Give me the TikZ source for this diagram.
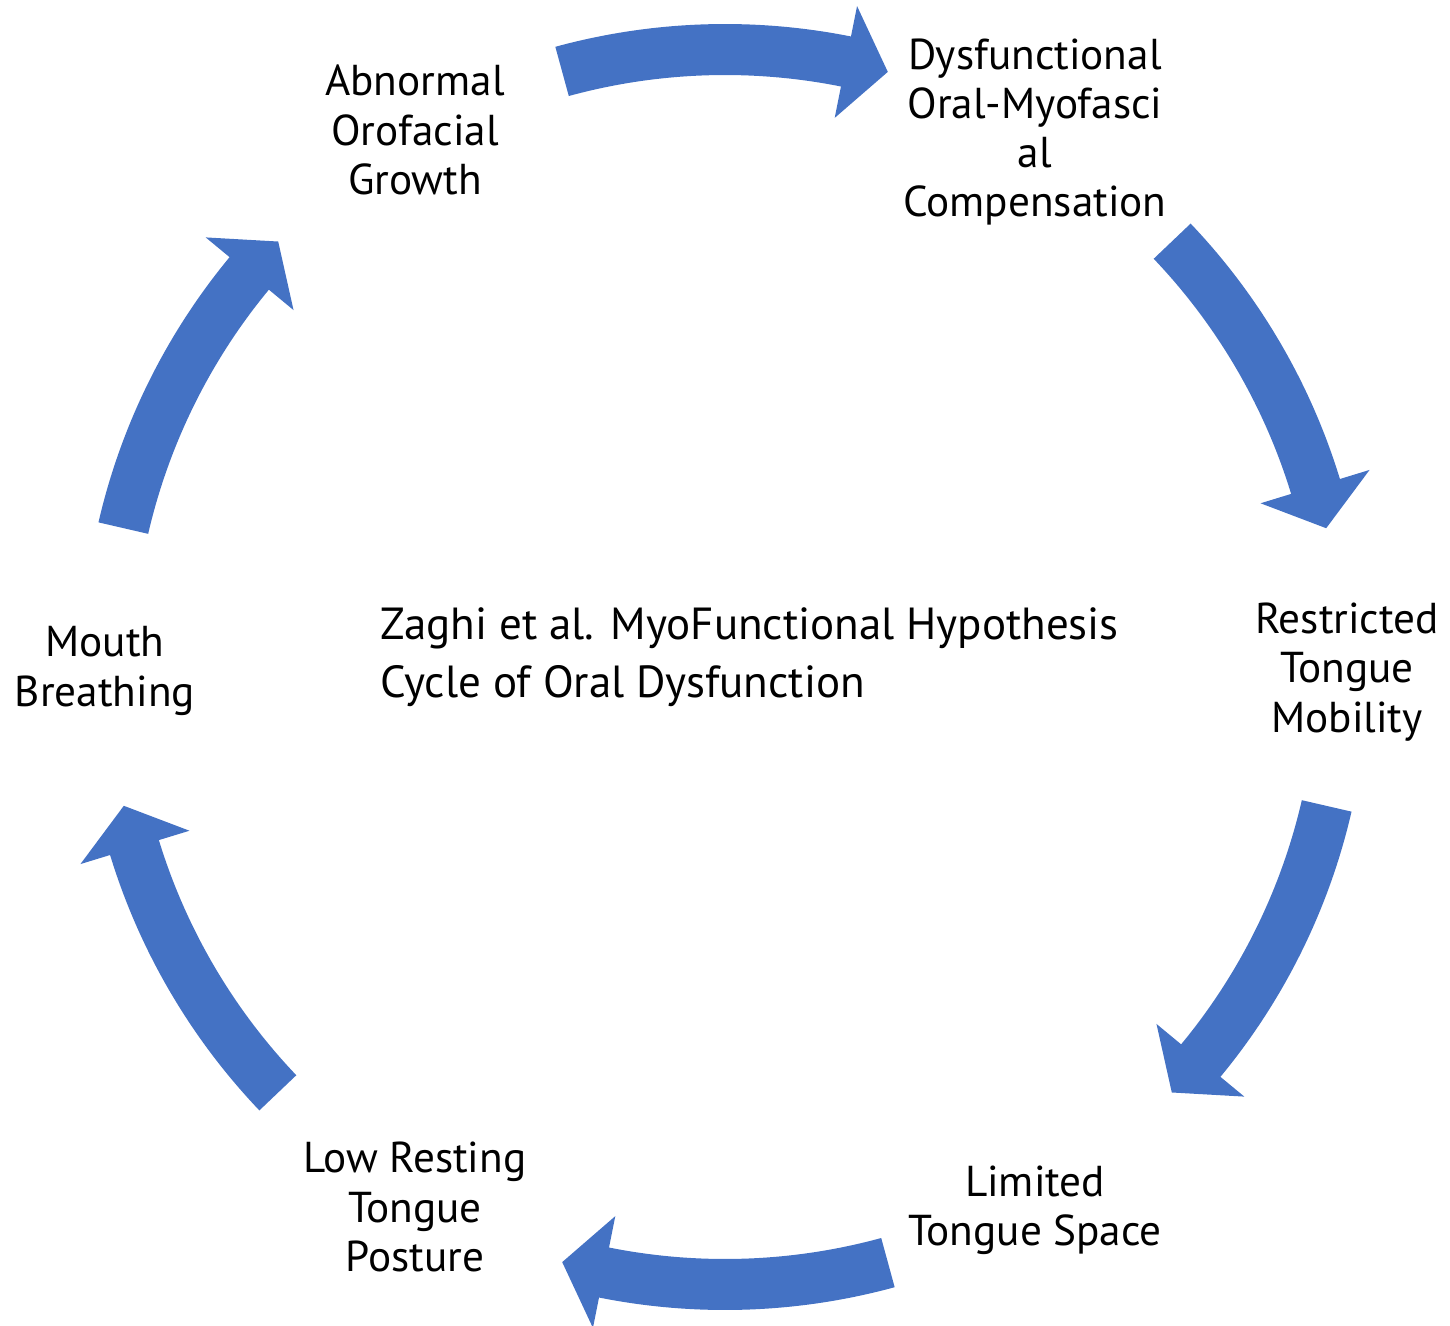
\documentclass[tikz,border=0pt]{standalone}
\usepackage{fontspec}
\setmainfont{PT Sans}[Ligatures=NoCommon]
\usepackage{tikz}
\definecolor{cycleblue}{HTML}{4472C4}
\definecolor{cycleink}{HTML}{000000}
\tikzset{
  stage/.style={align=center,inner sep=0pt,text=cycleink,font=\fontsize{12.3}{14}\selectfont},
  caption/.style={align=left,anchor=west,inner sep=0pt,text=cycleink,font=\fontsize{12.8}{16.5}\selectfont},
  bendarrow/.style={fill=cycleblue,draw=none}
}

\begin{document}
\begin{tikzpicture}
  \useasboundingbox (-7.25,-6.58) rectangle (7.25,6.67);

  % curved block arrows, clockwise round the cycle
  \foreach \c in {90,28.3,-28.3,-90,-151.7,151.7}{
    \fill[bendarrow] (\c+15.3:6.43) arc[start angle=\c+15.3,end angle=\c-11.3,radius=6.43]
      -- (\c-11.3:6.74) -- (\c-15.3:6.17) -- (\c-11.3:5.60) -- (\c-11.3:5.92)
      arc[start angle=\c-11.3,end angle=\c+15.3,radius=5.92] -- cycle;
  }

  \node[stage] (growth) at (-3.1,5.37) {Abnormal\\Orofacial\\Growth};
  \node[stage] (compensation) at (3.1,5.35) {Dysfunctional\\Oral-Myofasci\\al\\Compensation};
  \node[stage] (mobility) at (6.22,-0.05) {Restricted\\Tongue\\Mobility};
  \node[stage] (space) at (3.1,-5.43) {Limited\\Tongue Space};
  \node[stage] (posture) at (-3.1,-5.4) {Low Resting\\Tongue\\Posture};
  \node[stage] (breathing) at (-6.2,-0.04) {Mouth\\Breathing};
  \node[caption] (title) at (-3.45,0.10) {Zaghi et al. MyoFunctional Hypothesis\\Cycle of Oral Dysfunction};
\end{tikzpicture}
\end{document}
